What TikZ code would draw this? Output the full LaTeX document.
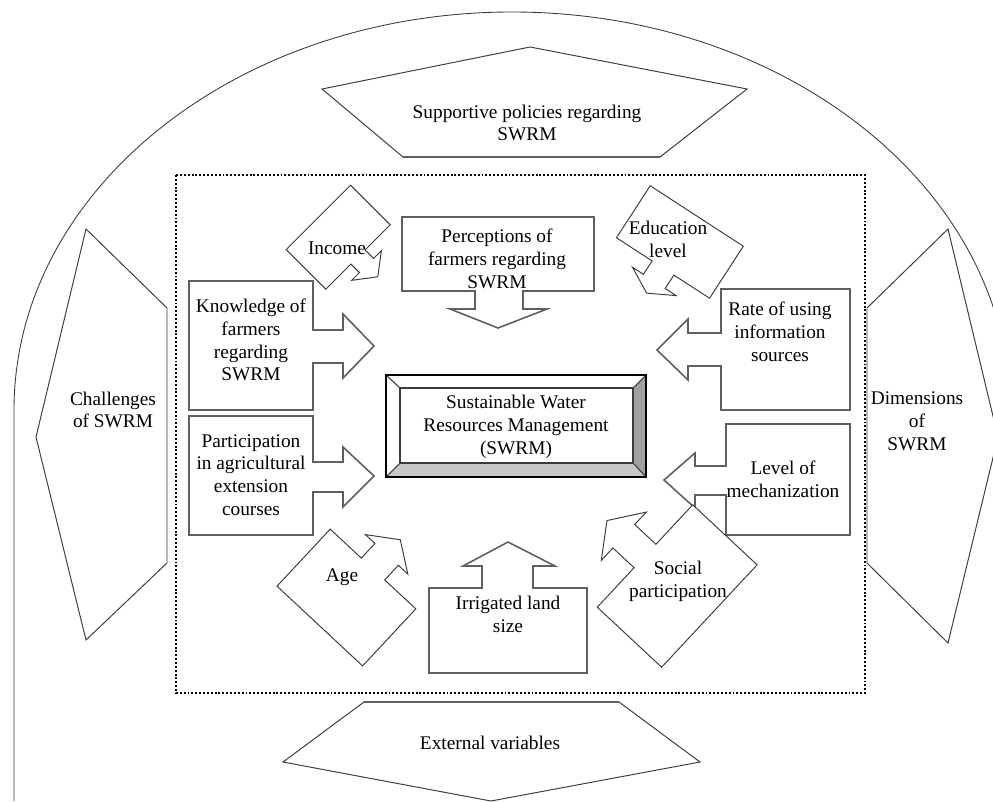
\documentclass[tikz,border=0pt]{standalone}
\usepackage{fontspec}
\setmainfont{Liberation Serif}
\usetikzlibrary{positioning}
\definecolor{edgegray}{RGB}{60,60,60}
\definecolor{boxgray}{RGB}{95,95,95}
\definecolor{bevelgray}{RGB}{160,160,160}
\definecolor{bevellight}{RGB}{200,200,200}

\begin{document}
\begin{tikzpicture}[x=0.02cm, y=-0.02cm,
    shp/.style={draw=edgegray, line width=0.55pt, fill=white},
    boxshp/.style={draw=boxgray, line width=0.9pt, fill=white},
    lbl/.style={align=center, font=\fontsize{11}{13}\selectfont, inner sep=0pt}]
  \useasboundingbox (0,0) rectangle (993,801);
  \clip (0,0) rectangle (993,801);

  \draw[edgegray, line width=0.5pt] (14,801) -- (14,410)
    arc[start angle=180, end angle=360, x radius=498, y radius=398];

  \draw[shp] (322,89) -- (530,47) -- (747,89) -- (660,157) -- (403,157) -- cycle;
  \draw[boxgray, line width=1.1pt] (403,157) -- (660,157);
  \node[lbl] (policy) at (527,123) {Supportive policies regarding\\SWRM};

  \draw[shp] (86,229) -- (167,308) -- (167,563) -- (86,640) -- (36,437) -- cycle;
  \node[lbl] (challenge) at (113,410) {Challenges\\of SWRM};

  \draw[shp] (948,229) -- (998,437) -- (948,643) -- (867,563) -- (867,308) -- cycle;
  \node[lbl] (dimension) at (917,421) {Dimensions\\of\\SWRM};

  \draw[shp] (364,702) -- (619,702) -- (700,762) -- (491,801) -- (283,762) -- cycle;
  \draw[boxgray, line width=1.1pt] (364,702) -- (619,702);
  \node[lbl] (external) at (490,743) {External variables};

  \draw[black, line width=1.2pt, dash pattern=on 1.1pt off 1.1pt] (176,175) rectangle (865,693);

  \draw[boxshp] (189,281) -- (313,281) -- (313,330) -- (343,330) -- (343,314) -- (374,346)
    -- (343,378) -- (343,363) -- (313,363) -- (313,410) -- (189,410) -- cycle;
  \node[lbl] (knowledge) at (251,340) {Knowledge of\\farmers\\regarding\\SWRM};

  \draw[boxshp] (189,416) -- (313,416) -- (313,462) -- (343,462) -- (343,447) -- (374,476)
    -- (343,507) -- (343,492) -- (313,492) -- (313,535) -- (189,535) -- cycle;
  \node[lbl] (course) at (251,475) {Participation\\in agricultural\\extension\\courses};

  \draw[boxshp] (850,289) -- (721,289) -- (721,333) -- (688,333) -- (688,319) -- (657,350)
    -- (688,380) -- (688,366) -- (721,366) -- (721,410) -- (850,410) -- cycle;
  \node[lbl] (info) at (780,332) {Rate of using\\information\\sources};

  \draw[boxshp] (850,424) -- (726,424) -- (726,466) -- (695,466) -- (695,453) -- (664,480)
    -- (695,508) -- (695,495) -- (726,495) -- (726,535) -- (850,535) -- cycle;
  \node[lbl] (mechan) at (783,479) {Level of\\mechanization};

  \draw[boxshp] (402,217) -- (594,217) -- (594,291) -- (523,291) -- (523,309) -- (547,309)
    -- (498,328) -- (450,309) -- (475,309) -- (475,291) -- (402,291) -- cycle;
  \node[lbl] (percept) at (497,259) {Perceptions of\\farmers regarding\\SWRM};

  \draw[boxshp] (429,673) -- (429,588) -- (482,588) -- (482,566) -- (463,566) -- (508,542)
    -- (555,566) -- (533,566) -- (533,588) -- (587,588) -- (587,673) -- cycle;
  \node[lbl] (land) at (508,614) {Irrigated land\\size};

  \draw[shp, shift={(358,257)}, rotate=-45] (-56,-45.5) -- (0,-45.5) -- (0,-10) -- (12,-10)
    -- (12,-21) -- (28,0) -- (12,21) -- (12,10) -- (0,10) -- (0,45.5) -- (-56,45.5) -- cycle;
  \node[lbl] (income) at (337,248) {Income};

  \draw[shp, shift={(663,268)}, rotate=-123] (-62,-55.5) -- (0,-55.5) -- (0,-13) -- (16,-13)
    -- (16,-26) -- (30,0) -- (16,26) -- (16,13) -- (0,13) -- (0,55.5) -- (-62,55.5) -- cycle;
  \node[lbl] (edu) at (668,239) {Education\\level};

  \draw[shp, shift={(373,569)}, rotate=47] (-78,-58.5) -- (0,-58.5) -- (0,-16) -- (20,-16)
    -- (20,-29) -- (40,0) -- (20,29) -- (20,16) -- (0,16) -- (0,58.5) -- (-78,58.5) -- cycle;
  \node[lbl] (age) at (342,577) {Age};

  \draw[shp, shift={(645,556)}, rotate=137] (-88,-70) -- (0,-70) -- (0,-16) -- (29,-16)
    -- (29,-33) -- (52,0) -- (29,33) -- (29,16) -- (0,16) -- (0,70) -- (-88,70) -- cycle;
  \node[lbl] (social) at (678,581) {Social\\participation};

  \fill[white] (386,375) rectangle (646,477);
  \fill[bevellight] (386,477) -- (646,477) -- (633,463) -- (400,463) -- cycle;
  \fill[bevelgray] (646,375) -- (646,477) -- (633,463) -- (633,388) -- cycle;
  \draw[edgegray, line width=0.6pt] (386,375) -- (400,388) (646,375) -- (633,388)
    (386,477) -- (400,463) (646,477) -- (633,463);
  \draw[edgegray, line width=0.6pt] (400,388) rectangle (633,463);
  \draw[black, line width=0.9pt] (386,375) rectangle (646,477);
  \node[lbl] (swrm) at (516,427) {Sustainable Water\\Resources Management\\(SWRM)};
\end{tikzpicture}
\end{document}
